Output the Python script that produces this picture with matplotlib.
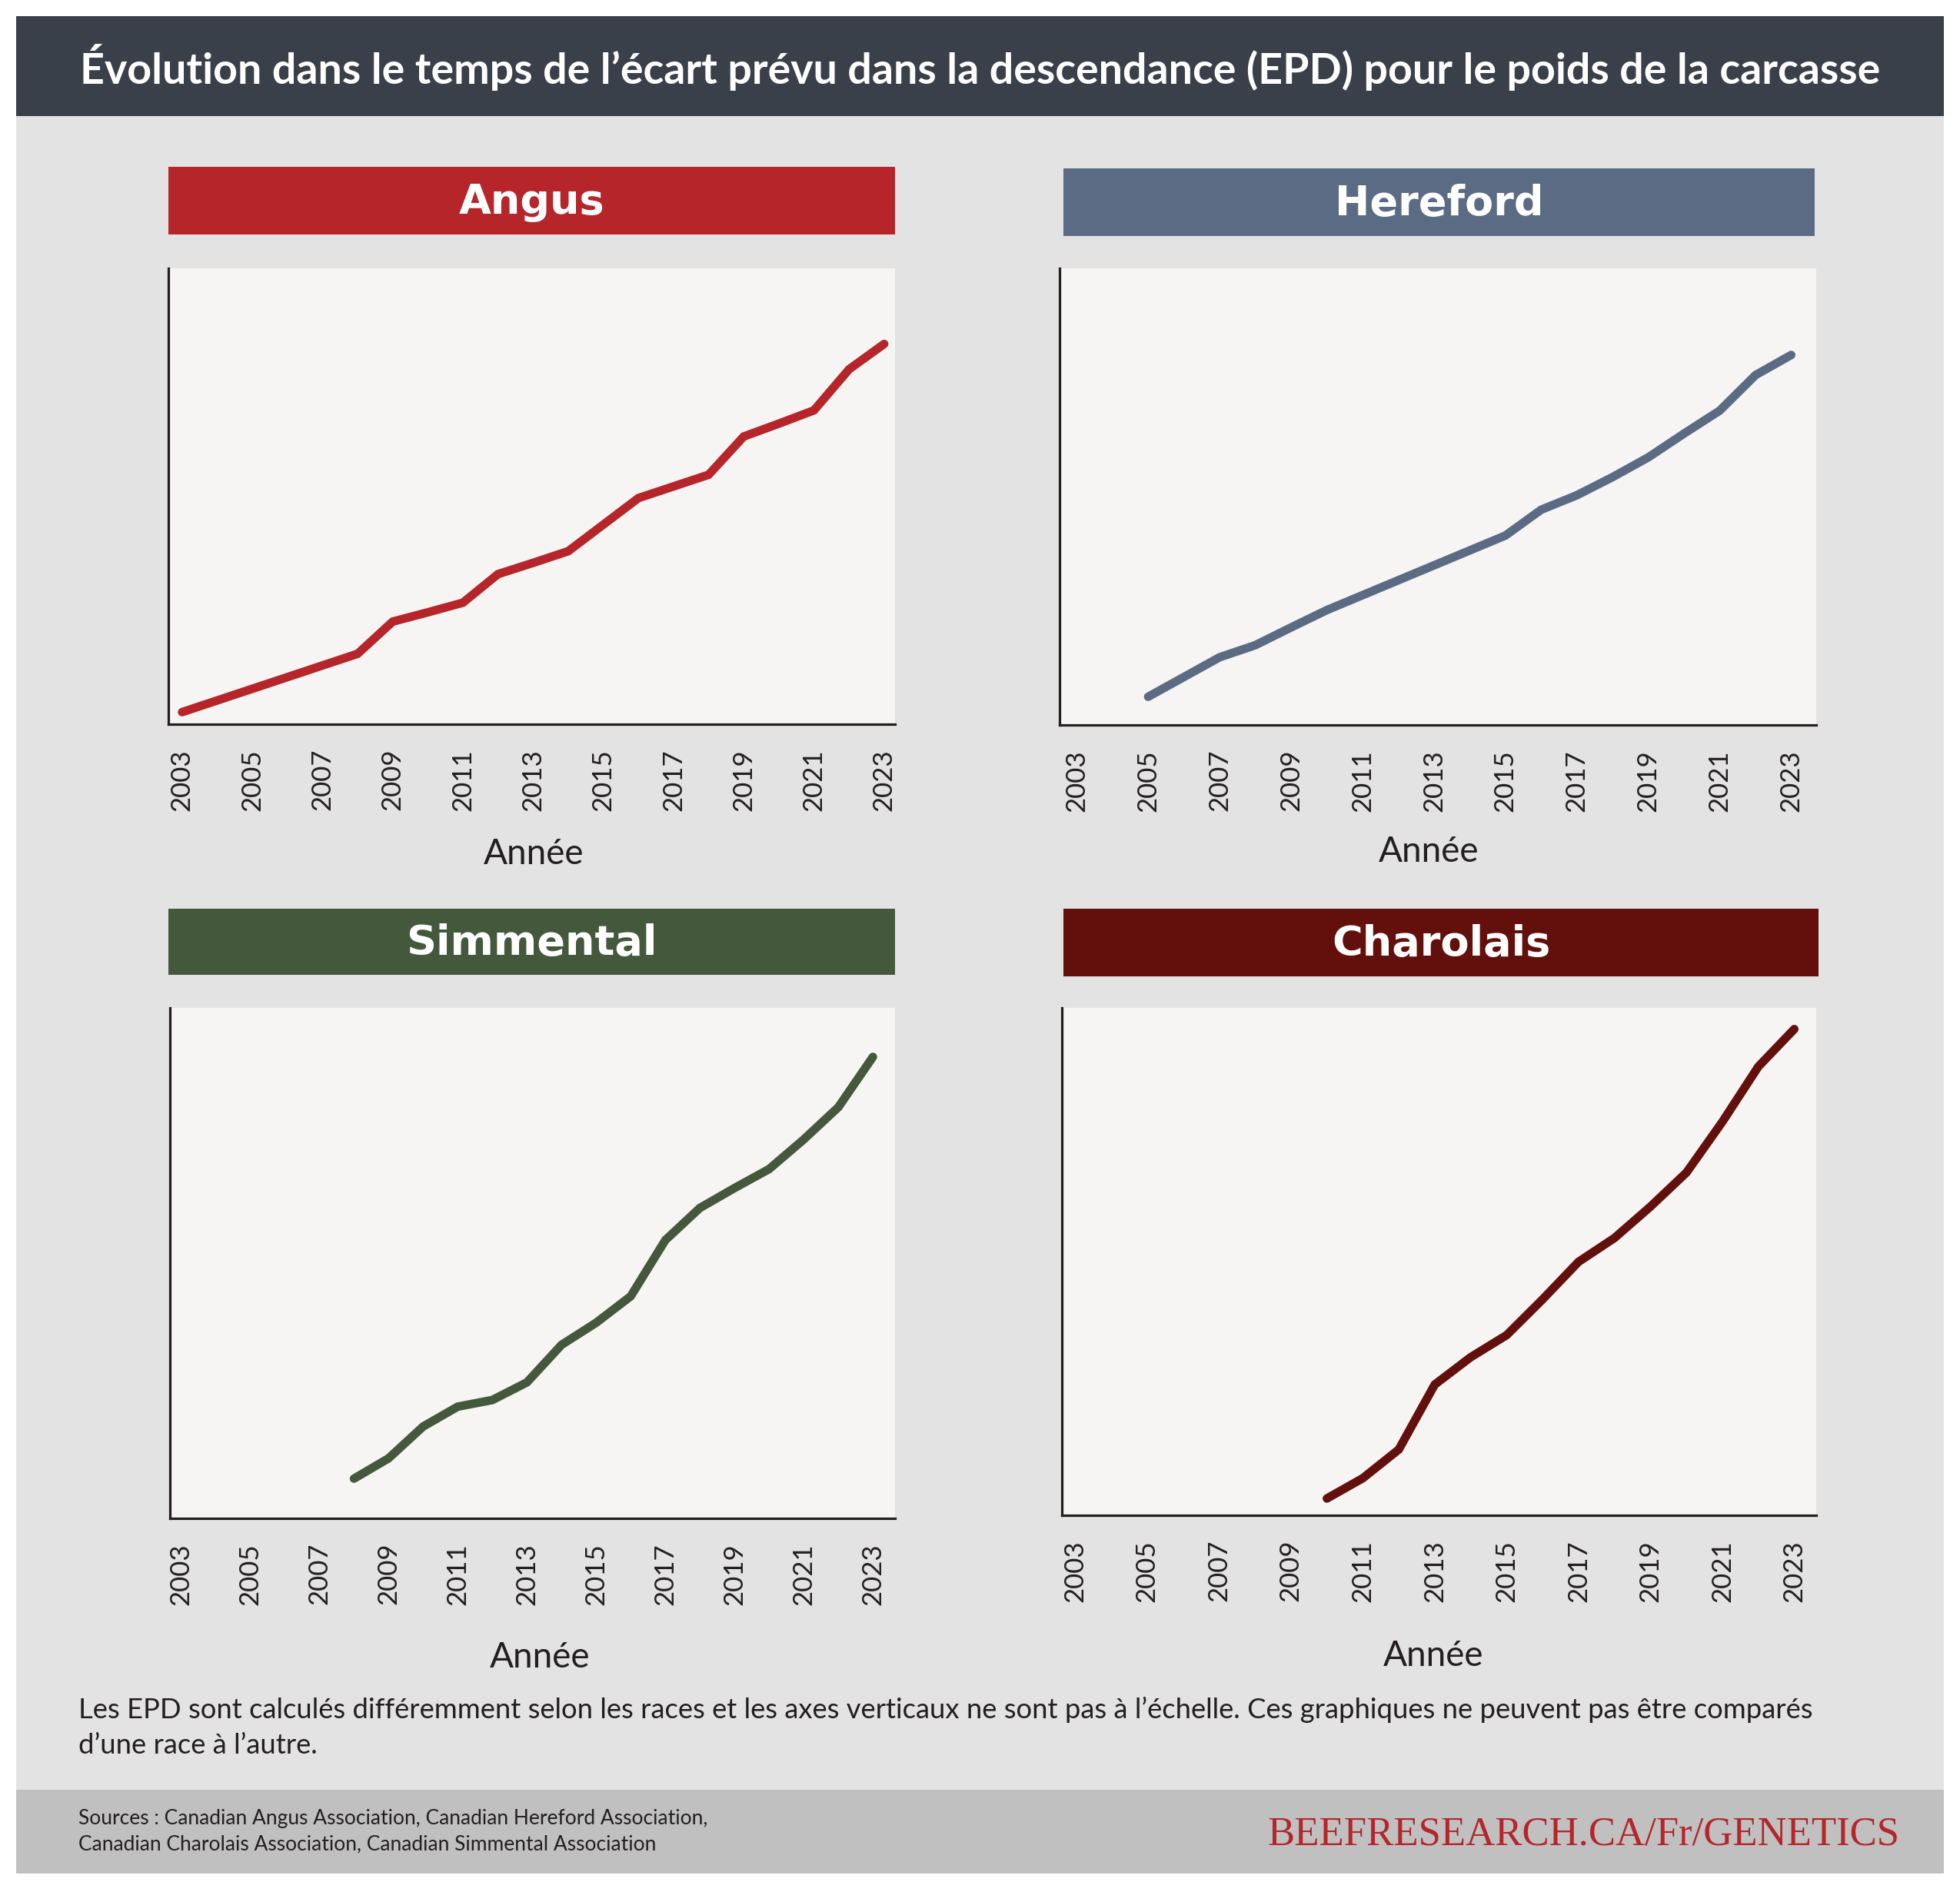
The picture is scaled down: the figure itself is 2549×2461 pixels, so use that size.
import matplotlib
matplotlib.use('Agg')
import matplotlib.pyplot as plt
from matplotlib.patches import Rectangle

plt.rcParams.update({
    "font.family": ["Lato", "DejaVu Sans"],
})

# ====================================================================
# données (valeurs relatives, axe vertical sans échelle)
# ====================================================================
years_angus = list(range(2003, 2024))
epd_angus = [3.0, 5.9, 8.8, 11.7, 14.6, 17.5, 25.5, 27.8, 30.2, 37.3, 40.1,
             43.0, 49.6, 56.2, 59.1, 62.0, 71.5, 74.7, 78.0, 88.2, 94.5]

years_hereford = list(range(2005, 2024))
epd_hereford = [7.0, 11.9, 16.8, 19.8, 24.2, 28.5, 32.2, 35.9, 39.6, 43.3,
                47.0, 53.4, 57.0, 61.5, 66.4, 72.3, 78.0, 86.8, 91.8]

years_simmental = list(range(2008, 2024))
epd_simmental = [9.0, 13.6, 20.8, 25.3, 26.8, 30.8, 39.3, 44.3, 50.3, 63.0,
                 70.3, 74.8, 79.1, 85.8, 93.1, 104.5]

years_charolais = list(range(2010, 2024))
epd_charolais = [3.8, 8.4, 14.9, 29.6, 35.8, 40.8, 48.9, 57.4, 62.8, 69.9,
                 77.6, 89.1, 101.6, 110.1]

tick_years = list(range(2003, 2024, 2))

title_txt = "Évolution dans le temps de l’écart prévu dans la descendance (EPD) pour le poids de la carcasse"
note_txt = ("Les EPD sont calculés différemment selon les races et les axes verticaux ne sont pas à l’échelle. "
            "Ces graphiques ne peuvent pas être comparés\nd’une race à l’autre.")
sources_txt = ("Sources : Canadian Angus Association, Canadian Hereford Association,\n"
               "Canadian Charolais Association, Canadian Simmental Association")
site_txt = "BEEFRESEARCH.CA/Fr/GENETICS"

# ====================================================================
# mise en page (pixels)
# ====================================================================
W, H = 2549, 2461
fig = plt.figure(figsize=(W / 100, H / 100), dpi=100)
fig.patch.set_facecolor('white')


def rect(x0, y0, x1, y1, color, z=0):
    fig.add_artist(Rectangle((x0 / W, 1 - y1 / H), (x1 - x0) / W, (y1 - y0) / H,
                             transform=fig.transFigure, facecolor=color,
                             edgecolor='none', zorder=z))


def ftext(x, y, s, **kw):
    fig.text(x / W, 1 - y / H, s, **kw)


rect(21, 151, 2528, 2328, '#e3e3e3')
rect(21, 21, 2528, 151, '#3a404a')
rect(21, 2328, 2528, 2437, '#c0c0c0')

ftext(1275, 88, title_txt, color='white', fontsize=40, fontweight='bold',
      ha='center', va='center')

panels = [
    # nom, couleur, années, valeurs, en-tête, axes, xlim, ylim, label année
    ('Angus', '#b5252a', years_angus, epd_angus,
     (219, 217, 1164, 305), (219, 349, 1164, 942), (2002.61, 2023.31), 113.3, (694, 1124)),
    ('Hereford', '#5b6b84', years_hereford, epd_hereford,
     (1383, 219, 2360, 307), (1378, 349, 2362, 943), (2002.52, 2023.70), 113.3, (1858, 1121)),
    ('Simmental', '#44593c', years_simmental, epd_simmental,
     (219, 1182, 1164, 1268), (221, 1311, 1164, 1975), (2002.68, 2023.64), 115.6, (702, 2169)),
    ('Charolais', '#63100d', years_charolais, epd_charolais,
     (1383, 1182, 2365, 1270), (1381, 1311, 2362, 1971), (2002.63, 2023.61), 114.9, (1864, 2167)),
]

for name, color, yrs, vals, hdr, box, xlim, ytop, lab in panels:
    rect(*hdr, color, z=1)
    ftext((hdr[0] + hdr[2]) / 2, (hdr[1] + hdr[3]) / 2 + 2, name, color='white',
          fontsize=39, fontweight='bold', family='DejaVu Sans',
          ha='center', va='center', zorder=2)

    x0, y0, x1, y1 = box
    ax = fig.add_axes([x0 / W, 1 - y1 / H, (x1 - x0) / W, (y1 - y0) / H])
    ax.set_facecolor('#f6f5f3')
    ax.plot(yrs, vals, color=color, lw=8, solid_capstyle='round',
            solid_joinstyle='miter')
    ax.set_xlim(xlim)
    ax.set_ylim(0, ytop)
    ax.set_yticks([])
    ax.set_xticks(tick_years)
    ax.set_xticklabels([str(t) for t in tick_years], rotation=90,
                       fontsize=25, color='#231f20', va='center')
    ax.tick_params(axis='x', length=0, pad=52)
    for s in ['top', 'right']:
        ax.spines[s].set_visible(False)
    for s in ['left', 'bottom']:
        ax.spines[s].set_color('#231f20')
        ax.spines[s].set_linewidth(2.3)

    ftext(lab[0], lab[1], 'Année', color='#231f20', fontsize=33,
          ha='center', va='baseline')

ftext(102, 2247, note_txt, color='#231f20', fontsize=26.2, ha='left', va='center',
      linespacing=1.5)
ftext(102, 2382, sources_txt, color='#231f20', fontsize=19, ha='left',
      va='center', linespacing=1.4)
ftext(2470, 2386, site_txt, color='#b5252a', fontsize=38,
      family='Liberation Serif', ha='right', va='center')

fig.savefig('out.png', dpi=100)
